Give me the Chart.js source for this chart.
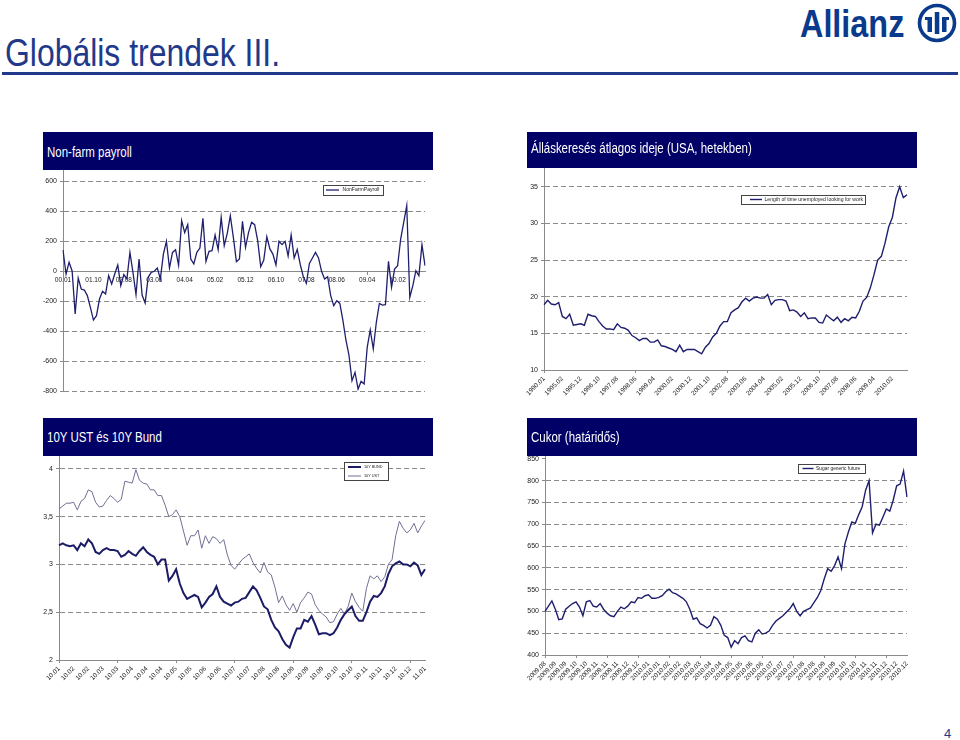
<!DOCTYPE html>
<html><head><meta charset="utf-8">
<script src="https://cdn.jsdelivr.net/npm/chart.js@4.4.0/dist/chart.umd.min.js"></script>
<style>
html,body{margin:0;padding:0;background:#fff;}
#page{position:relative;width:960px;height:740px;overflow:hidden;font-family:"Liberation Sans",Arial,sans-serif;}
canvas{position:absolute;}
.hdr{position:absolute;background:#000066;z-index:5;}
.hdr span{position:absolute;left:4px;white-space:nowrap;color:#fff;font-size:14px;line-height:16px;transform:scaleX(0.82);transform-origin:left center;}
#title{position:absolute;left:5px;top:34px;font-size:38px;line-height:38px;color:#21398a;white-space:nowrap;transform:scaleX(0.84);transform-origin:left top;}
#rule{position:absolute;left:2px;top:72px;width:956px;height:3px;background:#21398a;}
#brand{position:absolute;left:800px;top:4px;font-size:39px;line-height:39px;font-weight:bold;color:#0a3a8c;white-space:nowrap;transform:scaleX(0.83);transform-origin:left top;}
#logo{position:absolute;left:916px;top:2px;}
#pnum{position:absolute;left:944px;top:727px;font-size:13px;line-height:14px;color:#21398a;}
</style></head>
<body><div id="page">
<div id="title">Globális trendek III.</div>
<div id="rule"></div>
<div id="brand">Allianz</div>
<svg id="logo" width="42" height="42" viewBox="0 0 42 42">
 <circle cx="21" cy="21" r="17.5" fill="none" stroke="#0a3a8c" stroke-width="3.6"/>
 <rect x="11.5" y="15" width="4.5" height="15" fill="#0a3a8c"/>
 <rect x="9" y="15" width="7" height="3" fill="#0a3a8c"/>
 <rect x="18.8" y="10" width="4.5" height="22" fill="#0a3a8c"/>
 <rect x="26" y="15" width="4.5" height="15" fill="#0a3a8c"/>
 <rect x="26" y="15" width="7" height="3" fill="#0a3a8c"/>
</svg>
<div class="hdr" style="left:43px;top:132px;width:390px;height:38px;"><span style="top:12px;">Non-farm payroll</span></div>
<div class="hdr" style="left:527px;top:132px;width:390px;height:36px;"><span style="top:8px;">Álláskeresés átlagos ideje (USA, hetekben)</span></div>
<div class="hdr" style="left:43px;top:418px;width:390px;height:38px;"><span style="top:11px;">10Y UST és 10Y Bund</span></div>
<div class="hdr" style="left:527px;top:418px;width:390px;height:38px;"><span style="top:11px;">Cukor (határidős)</span></div>
<canvas id="c1" width="420" height="280" style="left:20px;top:140px;"></canvas>
<canvas id="c2" width="420" height="290" style="left:500px;top:140px;"></canvas>
<canvas id="c3" width="420" height="300" style="left:20px;top:410px;"></canvas>
<canvas id="c4" width="420" height="300" style="left:500px;top:410px;"></canvas>
<div id="pnum">4</div>
</div>
<script>
// ---------- DATA ----------
const npTickLabels = ['00.01','01.10','02.08','03.06','04.04','05.02','05.12','06.10','07.08','08.06','09.04','10.02'];
const npValues = [140,-20,58,0,-287,-47,-120,-127,-164,-242,
-327,-298,-187,-135,-153,-31,-87,-20,40,-98,
-24,-53,124,-9,-158,80,-160,-213,-42,-9,
-2,20,-53,113,198,20,124,142,38,336,
256,309,80,47,124,153,351,64,131,136,
240,142,358,169,251,369,224,62,80,331,
158,258,324,309,202,29,73,229,147,113,
40,198,176,198,100,240,87,144,42,-38,
-82,51,87,124,87,-2,-53,-38,-164,-231,
-198,-216,-327,-460,-560,-731,-676,-787,-736,-753,
-509,-393,-520,-342,-216,-227,-224,64,-109,13,
36,213,324,436,-176,-98,2,-31,176,36];

const durTickLabels = ['1990.01','1995.02','1995.12','1996.10','1997.08','1998.06','1999.04','2000.02','2000.12','2001.10','2002.08','2003.06','2004.04','2005.02','2005.12','2006.10','2007.08','2008.06','2009.04','2010.02'];
const durValues = [18.9,19.5,19.0,18.9,19.2,17.3,17.0,17.6,16.1,16.2,
16.3,16.1,17.6,17.4,17.3,16.6,16.0,15.6,15.6,15.5,
16.3,15.8,15.7,15.4,14.7,14.4,14.0,14.3,14.3,13.8,
13.8,14.1,13.3,13.2,13.0,12.8,12.5,13.4,12.5,12.8,
12.8,12.8,12.5,12.2,13.1,13.6,14.5,15.0,16.0,16.6,
16.6,17.8,18.2,18.5,19.3,19.8,19.4,19.8,19.95,19.8,
19.8,20.3,18.9,19.5,19.6,19.6,19.4,18.1,18.2,17.9,
17.3,17.8,17.0,17.1,17.1,16.5,16.4,17.5,17.1,16.7,
17.2,16.5,17.0,16.7,17.2,17.1,18.0,19.4,19.9,21.2,
23.0,25.0,25.5,27.3,29.5,30.8,33.5,35.0,33.5,33.9];

const bondTickLabels = ['10.01','10.02','10.02','10.03','10.03','10.04','10.04','10.04','10.05','10.05','10.06','10.06','10.07','10.07','10.08','10.08','10.09','10.09','10.09','10.10','10.10','10.11','10.11','10.12','10.12','11.01'];
const bundValues = [3.20,3.22,3.20,3.19,3.20,3.15,3.22,3.19,3.26,3.22,
3.13,3.11,3.15,3.17,3.15,3.15,3.14,3.08,3.10,3.14,
3.11,3.09,3.14,3.18,3.13,3.10,3.08,3.00,3.05,3.05,
2.83,2.88,2.95,2.80,2.70,2.64,2.66,2.68,2.66,2.55,
2.60,2.66,2.69,2.77,2.66,2.61,2.59,2.57,2.60,2.61,
2.64,2.65,2.71,2.77,2.73,2.65,2.56,2.53,2.42,2.34,
2.30,2.22,2.16,2.13,2.24,2.33,2.33,2.42,2.40,2.46,
2.37,2.27,2.28,2.28,2.26,2.28,2.34,2.42,2.48,2.52,
2.56,2.46,2.41,2.41,2.50,2.61,2.67,2.66,2.70,2.77,
2.90,2.98,3.01,3.03,3.00,3.00,2.98,3.02,2.99,2.89,
2.95];
const ustValues = [3.58,3.61,3.64,3.64,3.65,3.57,3.66,3.69,3.78,3.76,
3.65,3.60,3.61,3.67,3.72,3.69,3.65,3.68,3.87,3.86,
3.85,3.99,3.88,3.85,3.84,3.78,3.78,3.72,3.72,3.62,
3.50,3.52,3.57,3.50,3.35,3.20,3.30,3.30,3.36,3.17,
3.30,3.22,3.29,3.27,3.22,3.26,3.10,2.99,2.95,3.00,
3.05,3.08,3.11,3.02,2.96,2.91,3.02,2.92,2.89,2.76,
2.60,2.67,2.58,2.52,2.59,2.50,2.60,2.65,2.71,2.69,
2.58,2.52,2.48,2.45,2.39,2.40,2.48,2.54,2.48,2.56,
2.70,2.61,2.55,2.51,2.75,2.88,2.85,2.88,2.82,2.87,
3.00,3.05,3.30,3.45,3.38,3.33,3.36,3.43,3.33,3.40,
3.46];

const sugarTickLabels = ['2009.08','2009.09','2009.09','2009.10','2009.10','2009.11','2009.11','2009.11','2009.12','2009.12','2010.01','2010.01','2010.02','2010.02','2010.03','2010.03','2010.04','2010.04','2010.05','2010.05','2010.06','2010.06','2010.07','2010.07','2010.07','2010.08','2010.08','2010.09','2010.09','2010.10','2010.10','2010.11','2010.11','2010.12','2010.12','2010.12'];
const sugarValues = [500,512,524,505,481,483,505,512,518,522,
510,490,522,525,512,510,518,505,496,490,
488,500,510,506,512,522,520,532,530,536,
538,530,530,532,536,545,551,543,540,535,
530,522,505,482,485,472,468,462,468,488,
482,468,445,440,418,433,426,440,444,433,
430,450,458,448,450,455,468,478,484,490,
498,506,518,500,490,500,504,508,520,532,
548,575,598,592,605,625,598,655,682,705,
702,722,740,778,800,680,700,698,716,735,
730,755,788,792,822,762];

// ---------- HELPERS ----------
const FONT = '"Liberation Sans", Arial, sans-serif';
const GRID = '#8a8a8a';
const TXT = '#222';
const LINE = '#1f1f6e';
Chart.defaults.font.family = FONT;

function buildCategories(tickLabels, n) {
  const step = Math.ceil(n / tickLabels.length);
  const out = [];
  for (let i = 0; i < n; i++) out.push(i % step === 0 ? (tickLabels[i / step] || '') : '');
  return out;
}

const boxLegend = {
  id: 'boxLegend',
  afterDraw(chart, args, o) {
    const ctx = chart.ctx;
    ctx.save();
    ctx.fillStyle = '#fff';
    ctx.fillRect(o.x, o.y, o.w, o.h);
    ctx.strokeStyle = '#444'; ctx.lineWidth = 1; ctx.setLineDash([]);
    ctx.strokeRect(o.x + 0.5, o.y + 0.5, o.w, o.h);
    chart.data.datasets.forEach((ds, i) => {
      const cy = o.y + o.top + i * o.row;
      ctx.strokeStyle = ds.borderColor; ctx.lineWidth = ds.borderWidth;
      ctx.beginPath(); ctx.moveTo(o.x + o.lx, cy); ctx.lineTo(o.x + o.lx + o.len, cy); ctx.stroke();
      ctx.fillStyle = '#222'; ctx.font = o.font + 'px ' + FONT; ctx.textBaseline = 'middle'; ctx.textAlign = 'left';
      ctx.fillText(ds.label, o.x + o.lx + o.len + o.gap, cy);
    });
    ctx.restore();
  }
};

function yScale(min, max, step, width, fmt, hideGrid) {
  return {
    min, max,
    ticks: { stepSize: step, color: TXT, font: { size: 7 }, padding: 3, callback: fmt },
    grid: { color: (c) => (hideGrid && c.tick && hideGrid(c.tick.value)) ? 'rgba(0,0,0,0)' : GRID,
            lineWidth: 1, drawTicks: true, tickLength: 3, tickColor: GRID, tickBorderDash: [] },
    border: { display: true, color: GRID, width: 1, dash: [5, 3] },
    afterFit(s) { s.width = width; }
  };
}

function xScale(cats, rot, height, pos) {
  const s = {
    type: 'category', offset: false,
    ticks: { autoSkip: false, maxRotation: rot, minRotation: rot, color: TXT, font: { size: 6.5 }, padding: 2,
             callback(v, i) { return cats[i] ? cats[i] : null; } },
    grid: { display: true, drawOnChartArea: false, drawTicks: true, tickLength: 3,
            color: (c) => (c.index !== undefined && cats[c.index]) ? GRID : 'rgba(0,0,0,0)' },
    border: { display: true, color: GRID, width: 1 }
  };
  if (pos) s.position = pos;
  if (height) s.afterFit = (sc) => { sc.height = height; };
  return s;
}

function baseOptions(padding, scales, legendOpts) {
  return {
    responsive: false, animation: false, devicePixelRatio: 1,
    layout: { padding },
    plugins: { legend: { display: false }, tooltip: { enabled: false }, boxLegend: legendOpts },
    elements: { point: { radius: 0 }, line: { tension: 0 } },
    scales
  };
}

// ---------- CHART 1 ----------
const npCats = buildCategories(npTickLabels, npValues.length);
new Chart(document.getElementById('c1'), {
  type: 'line',
  data: { labels: npCats, datasets: [{ label: 'NonFarmPayroll', data: npValues, borderColor: LINE, borderWidth: 1.3 }] },
  options: baseOptions({ left: 0, top: 11, right: 15, bottom: 29 }, {
    x: xScale(npCats, 0, 0, { y: 0 }),
    y: yScale(-800, 800, 200, 43, (v) => v === 800 ? '' : String(v))
  }, { x: 303, y: 45, w: 60, h: 10, top: 5, row: 9, lx: 3, len: 13, gap: 3.5, font: 5.1 }),
  plugins: [boxLegend]
});

// ---------- CHART 2 ----------
const durCats = buildCategories(durTickLabels, durValues.length);
new Chart(document.getElementById('c2'), {
  type: 'line',
  data: { labels: durCats, datasets: [{ label: 'Length of time unemployed looking for work', data: durValues, borderColor: LINE, borderWidth: 1.4 }] },
  options: baseOptions({ left: 0, top: 10, right: 13, bottom: 25 }, {
    x: xScale(durCats, 45, 35),
    y: yScale(10, 40, 5, 44, (v) => v === 40 ? '' : String(v))
  }, { x: 241, y: 55, w: 124, h: 9, top: 4.5, row: 9, lx: 9, len: 12, gap: 2.5, font: 5.1 }),
  plugins: [boxLegend]
});

// ---------- CHART 3 ----------
const bondCats = buildCategories(bondTickLabels, bundValues.length);
new Chart(document.getElementById('c3'), {
  type: 'line',
  data: { labels: bondCats, datasets: [
    { label: '10Y BUND', data: bundValues, borderColor: '#1c1c66', borderWidth: 2 },
    { label: '10Y UST', data: ustValues, borderColor: '#707095', borderWidth: 1 }
  ] },
  options: baseOptions({ left: 0, top: 11, right: 15, bottom: 15 }, {
    x: xScale(bondCats, 45, 35),
    y: yScale(2, 4.5, 0.5, 39, (v) => v === 4.5 ? '' : String(v).replace('.', ','))
  }, { x: 324, y: 52, w: 44, h: 18, top: 5, row: 9, lx: 4, len: 13, gap: 3, font: 3.8 }),
  plugins: [boxLegend]
});

// ---------- CHART 4 ----------
const sugarCats = buildCategories(sugarTickLabels, sugarValues.length);
new Chart(document.getElementById('c4'), {
  type: 'line',
  data: { labels: sugarCats, datasets: [{ label: 'Sugar generic future', data: sugarValues, borderColor: LINE, borderWidth: 1.4 }] },
  options: baseOptions({ left: 0, top: 27, right: 13, bottom: 20 }, {
    x: xScale(sugarCats, 45, 35),
    y: yScale(400, 900, 50, 45, (v) => v === 900 ? '' : String(v), (v) => v >= 850)
  }, { x: 298, y: 54, w: 67, h: 9, top: 4.5, row: 9, lx: 4.5, len: 11, gap: 2.5, font: 4.9 }),
  plugins: [boxLegend]
});
</script>
</body></html>
